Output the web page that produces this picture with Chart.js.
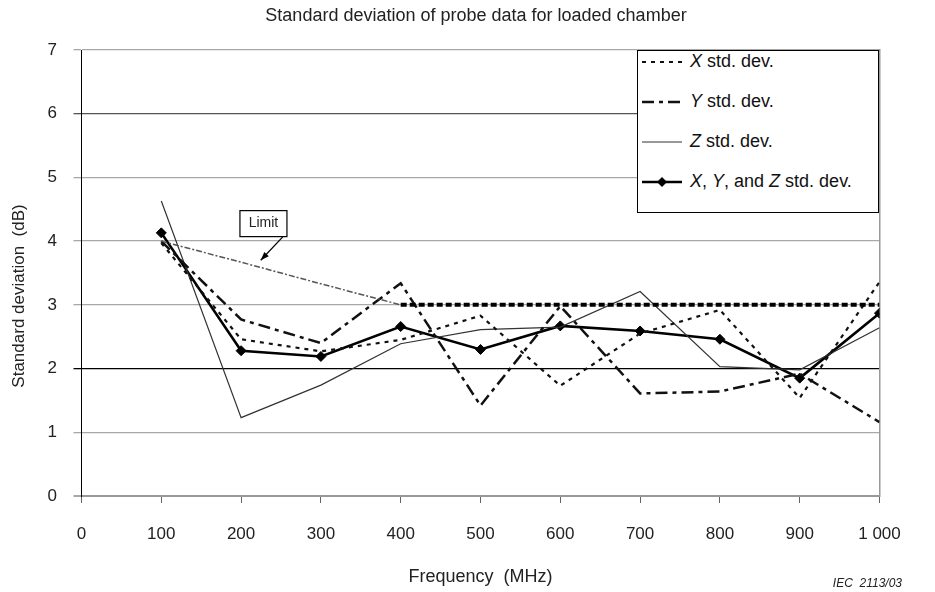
<!DOCTYPE html>
<html>
<head>
<meta charset="utf-8">
<title>Standard deviation of probe data for loaded chamber</title>
<script src="https://cdn.jsdelivr.net/npm/chart.js@4.4.1/dist/chart.umd.min.js"></script>
<style>
    body { margin: 0; background: #fff; font-family: "Liberation Sans", Arial, sans-serif; }
    #wrap { position: relative; width: 935px; height: 592px; }
    #legend { position: absolute; left: 637px; top: 50px; width: 242px; height: 163px; box-sizing: border-box; border: 1.5px solid #000; background: #fff; }
    #legend ul { list-style: none; margin: 0; padding: 0; }
    #legend li { position: absolute; left: 4px; height: 20px; display: flex; align-items: center; font-size: 18px; color: #111; white-space: nowrap; }
    #legend svg { margin-right: 8px; }
</style>
</head>
<body>
<div id="wrap">
    <canvas id="myChart" width="935" height="592"></canvas>
    <div id="legend"></div>
</div>
<script>
// frequencies in MHz
const freqs = [100, 200, 300, 400, 500, 600, 700, 800, 900, 1000];

// std. dev. values in dB
const xStd   = [3.97, 2.46, 2.27, 2.45, 2.83, 1.73, 2.55, 2.92, 1.54, 3.36];
const yStd   = [4.00, 2.77, 2.40, 3.34, 1.42, 2.98, 1.61, 1.64, 1.92, 1.16];
const zStd   = [4.63, 1.23, 1.74, 2.39, 2.61, 2.65, 3.21, 2.03, 1.98, 2.64];
const xyzStd = [4.13, 2.28, 2.19, 2.66, 2.30, 2.67, 2.59, 2.46, 1.85, 2.87];
const limit  = [4.00, 3.67, 3.33, 3.00, 3.00, 3.00, 3.00, 3.00, 3.00, 3.00];

const yTicks = [0, 1, 2, 3, 4, 5, 6, 7];

const FONT = '"Liberation Sans", Arial, sans-serif';

function toPoints(values) {
    return freqs.map((f, i) => ({x: f, y: values[i]}));
}

// legend built as html so the X / Y / Z can be italic
const htmlLegend = {
    id: 'htmlLegend',
    afterUpdate(chart) {
        const box = document.getElementById('legend');
        const items = chart.data.datasets.filter(ds => !ds.noLegend);
        let html = '<ul>';
        items.forEach((ds, i) => {
            const dash = ds.borderDash ? ds.borderDash.join(',') : 'none';
            let svg = '<svg width="40" height="14"><line x1="0" y1="7" x2="40" y2="7" stroke="' + ds.borderColor +
                '" stroke-width="' + ds.borderWidth + '" stroke-dasharray="' + dash + '"/>';
            if (ds.pointStyle === 'rectRot') {
                svg += '<polygon points="20,2 25,7 20,12 15,7" fill="#000"/>';
            }
            svg += '</svg>';
            const text = ds.label.replace(/\b([XYZ])\b/g, '<i>$1</i>');
            html += '<li style="top:' + (0.5 + i * 40) + 'px">' + svg + '<span>' + text + '</span></li>';
        });
        html += '</ul>';
        box.innerHTML = html;
    }
};

// y title, the "Limit" note and the figure number
const extras = {
    id: 'extras',
    afterDraw(chart) {
        const {ctx} = chart;
        const xs = chart.scales.x;
        const ys = chart.scales.y;
        ctx.save();

        // y axis title (sits a bit below the middle of the axis)
        ctx.fillStyle = '#222';
        ctx.font = '17px ' + FONT;
        ctx.textAlign = 'center';
        ctx.textBaseline = 'middle';
        ctx.translate(19, 296);
        ctx.rotate(-Math.PI / 2);
        ctx.fillText('Standard deviation  (dB)', 0, 0);
        ctx.setTransform(1, 0, 0, 1, 0, 0);

        // Limit note
        const cx = xs.getPixelForValue(228);
        const cy = ys.getPixelForValue(4.275);
        ctx.font = '14px ' + FONT;
        ctx.fillStyle = '#fff';
        ctx.fillRect(cx - 23.5, cy - 13, 47, 26);
        ctx.strokeStyle = '#000';
        ctx.lineWidth = 1.2;
        ctx.strokeRect(cx - 23.5, cy - 13, 47, 26);
        ctx.fillStyle = '#222';
        ctx.fillText('Limit', cx, cy);

        const x0 = xs.getPixelForValue(252.5), y0 = ys.getPixelForValue(4.07);
        const x1 = xs.getPixelForValue(224.6), y1 = ys.getPixelForValue(3.70);
        ctx.beginPath();
        ctx.moveTo(x0, y0);
        ctx.lineTo(x1, y1);
        ctx.stroke();
        const ang = Math.atan2(y1 - y0, x1 - x0);
        ctx.fillStyle = '#000';
        ctx.beginPath();
        ctx.moveTo(x1, y1);
        ctx.lineTo(x1 - 9 * Math.cos(ang - 0.35), y1 - 9 * Math.sin(ang - 0.35));
        ctx.lineTo(x1 - 9 * Math.cos(ang + 0.35), y1 - 9 * Math.sin(ang + 0.35));
        ctx.closePath();
        ctx.fill();

        // figure number
        ctx.font = 'italic 12px ' + FONT;
        ctx.fillStyle = '#222';
        ctx.textAlign = 'right';
        ctx.fillText('IEC  2113/03', 902, 584);
        ctx.restore();
    }
};

function gridColor(c) {
    if (c.tick.value === 2) return '#000';
    if (c.tick.value === 6) return '#555';
    return '#a8a8a8';
}

const config = {
    type: 'line',
    data: {
        datasets: [{
            label: 'Limit',
            noLegend: true,
            data: toPoints(limit),
            borderColor: '#555',
            borderWidth: 1.5,
            borderDash: [6, 2, 2, 2],
            pointRadius: 0,
            segment: {
                borderColor: c => c.p0.parsed.x >= 400 ? '#000' : '#555',
                borderWidth: c => c.p0.parsed.x >= 400 ? 4 : 1.5,
                borderDash: c => c.p0.parsed.x >= 400 ? [6, 3] : [6, 2, 2, 2]
            }
        }, {
            label: 'X std. dev.',
            data: toPoints(xStd),
            borderColor: '#111',
            borderWidth: 2.2,
            borderDash: [4, 5],
            pointRadius: 0
        }, {
            label: 'Y std. dev.',
            data: toPoints(yStd),
            borderColor: '#111',
            borderWidth: 2.5,
            borderDash: [12, 5, 4, 5],
            pointRadius: 0
        }, {
            label: 'Z std. dev.',
            data: toPoints(zStd),
            borderColor: '#333',
            borderWidth: 1.2,
            pointRadius: 0
        }, {
            label: 'X, Y, and Z std. dev.',
            data: toPoints(xyzStd),
            borderColor: '#000',
            backgroundColor: '#000',
            borderWidth: 2.6,
            pointStyle: 'rectRot',
            pointRadius: 5,
            pointBorderWidth: 1
        }]
    },
    options: {
        responsive: false,
        animation: false,
        layout: {padding: {left: 17, right: 0, top: 0, bottom: 0}},
        elements: {line: {tension: 0}},
        plugins: {
            legend: {display: false},
            tooltip: {enabled: false},
            title: {
                display: true,
                text: 'Standard deviation of probe data for loaded chamber',
                color: '#222',
                font: {family: FONT, size: 18, weight: 'normal'},
                padding: {top: 5, bottom: 23.4}
            }
        },
        scales: {
            x: {
                type: 'linear',
                min: 0,
                max: 1000,
                afterFit: s => { s.height = 96; },
                border: {color: '#999', width: 2},
                grid: {drawOnChartArea: false, color: '#666', tickLength: 7},
                ticks: {
                    stepSize: 100,
                    padding: 21.5,
                    color: '#222',
                    font: {family: FONT, size: 17},
                    callback: v => String(v).replace(/\B(?=(\d{3})+(?!\d))/g, ' ')
                },
                title: {
                    display: true,
                    text: 'Frequency  (MHz)',
                    color: '#222',
                    font: {family: FONT, size: 18},
                    padding: {top: 0, bottom: 4.2}
                }
            },
            y: {
                min: yTicks[0],
                max: yTicks[yTicks.length - 1],
                afterFit: s => { s.width = 64.5; },
                afterBuildTicks: s => { s.ticks = yTicks.map(v => ({value: v})); },
                border: {color: '#000', width: 1},
                grid: {color: gridColor, lineWidth: c => c.tick.value === 0 ? 2 : 1.3, tickLength: 8},
                ticks: {
                    padding: 16.5,
                    color: '#222',
                    font: {family: FONT, size: 17}
                }
            },
            // empty right axis: only gives the right frame edge
            yRight: {
                position: 'right',
                afterFit: s => { s.width = 55.5; },
                border: {color: '#999', width: 1.5},
                grid: {display: false},
                ticks: {display: false}
            }
        }
    },
    plugins: [htmlLegend, extras]
};

const chart = new Chart(document.getElementById('myChart').getContext('2d'), config);
</script>
</body>
</html>
